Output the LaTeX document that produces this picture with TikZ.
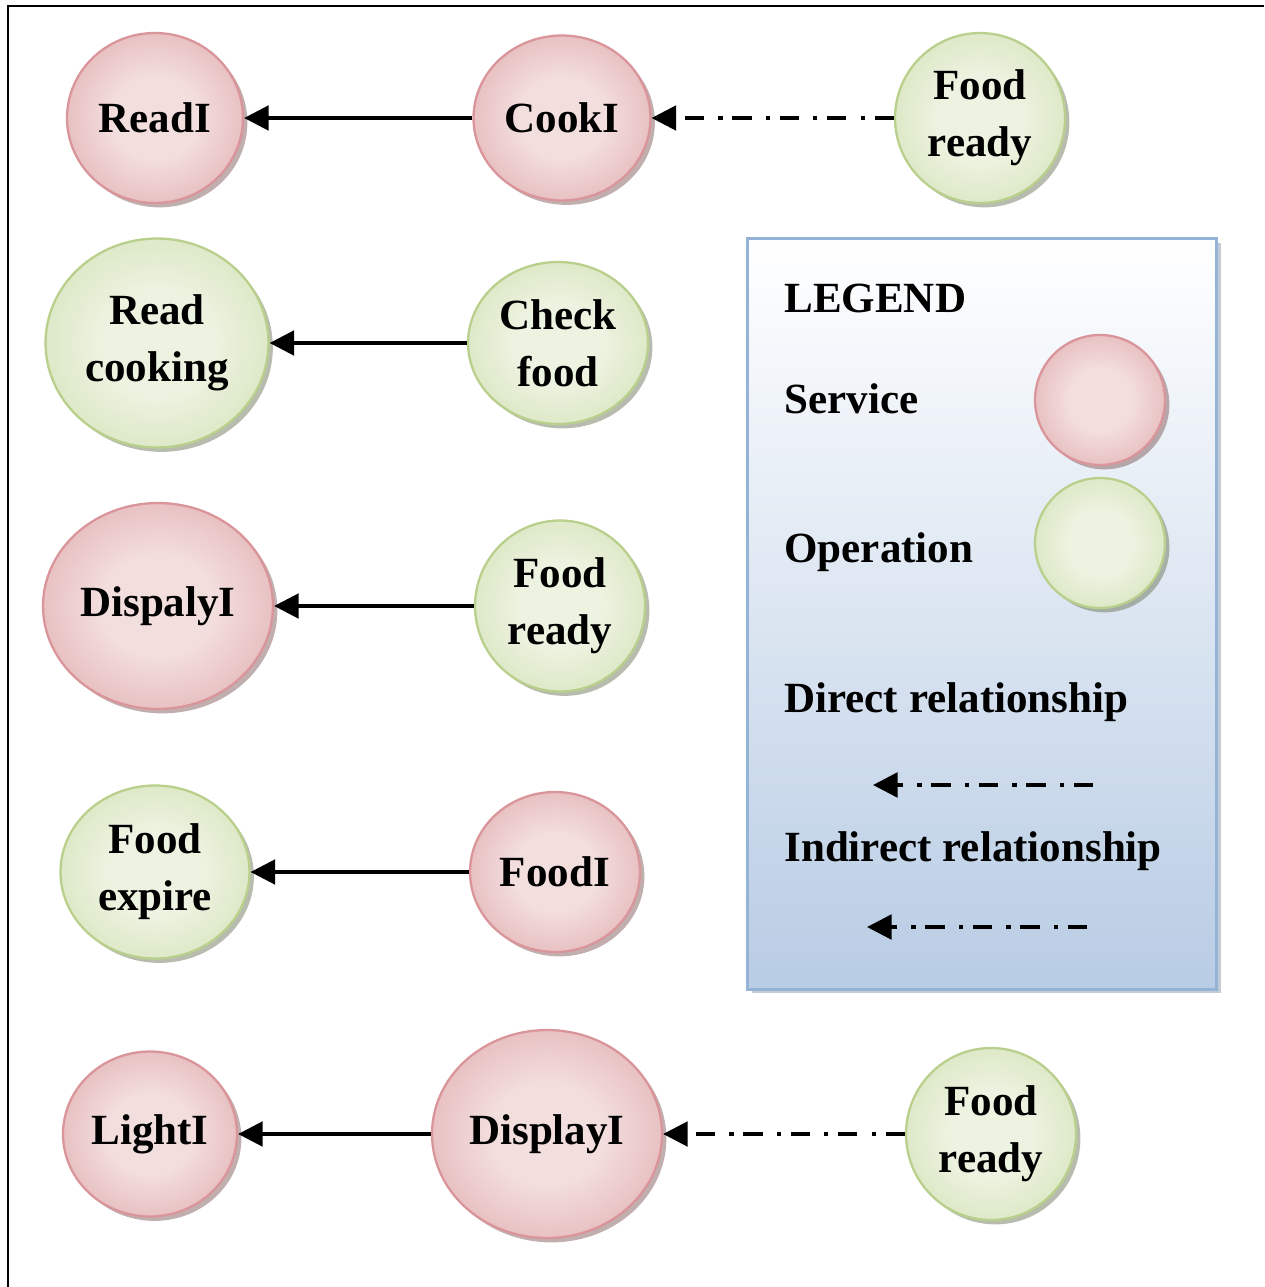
\documentclass[tikz,border=0pt]{standalone}
\usepackage{fontspec}
\setmainfont{Liberation Serif}
\usetikzlibrary{shapes.geometric,shadows,arrows.meta}
\definecolor{svcin}{HTML}{F3DEDE}
\definecolor{svcout}{HTML}{D48A8E}
\definecolor{svcline}{HTML}{D9959A}
\definecolor{opin}{HTML}{EDF3E1}
\definecolor{opout}{HTML}{C0D698}
\definecolor{opline}{HTML}{B8D08C}
\definecolor{legbot}{HTML}{B8CCE4}
\definecolor{legline}{HTML}{95B3D7}
\pgfdeclareradialshading{svcshade}{\pgfpoint{0bp}{0bp}}{color(0bp)=(svcin); color(12bp)=(svcin); color(50bp)=(svcout)}
\pgfdeclareradialshading{opshade}{\pgfpoint{0bp}{0bp}}{color(0bp)=(opin); color(12bp)=(opin); color(50bp)=(opout)}
\tikzstyle{lbl}=[font=\bfseries\fontsize{24.5}{32.4}\selectfont]
\tikzstyle{service}=[ellipse,lbl,align=center,inner sep=0pt,draw=svcline,line width=1.3pt,shading=svcshade,drop shadow={shadow xshift=2.5pt,shadow yshift=-2.5pt,fill=svcout!55!black,opacity=0.45}]
\tikzstyle{operation}=[ellipse,lbl,align=center,inner sep=0pt,draw=opline,line width=1.3pt,shading=opshade,drop shadow={shadow xshift=2.5pt,shadow yshift=-2.5pt,fill=opout!50!black,opacity=0.45}]
\tikzstyle{direct}=[line width=2pt,-{Triangle[length=14pt,width=14pt]}]
\tikzstyle{indirect}=[direct,dash pattern=on 11pt off 5.5pt on 2.5pt off 8pt]

\begin{document}
\begin{tikzpicture}[x=0.02cm,y=-0.02cm]
\useasboundingbox (0,0) rectangle (1264,1287);
\draw[line width=1.6pt] (8,1287) -- (8,6) -- (1264,6);

% legend
\node[rectangle,minimum width=9.38cm,minimum height=15.02cm,top color=white,bottom color=legbot,draw=legline,line width=1.8pt,drop shadow={shadow xshift=2.3pt,shadow yshift=-2.3pt,fill=legline!70!black,opacity=0.4}] (legend) at (982,614) {};
\node[lbl,inner sep=0pt,anchor=base west] (legTitle) at (784,313) {LEGEND};
\node[lbl,inner sep=0pt,anchor=base west] (legSvcTxt) at (784,413) {Service};
\node[lbl,inner sep=0pt,anchor=base west] (legOpTxt) at (784,562) {Operation};
\node[lbl,inner sep=0pt,anchor=base west] (legDirTxt) at (784,712) {Direct relationship};
\node[lbl,inner sep=0pt,anchor=base west] (legIndTxt) at (784,861) {Indirect relationship};
\node[service,minimum width=2.6cm,minimum height=2.6cm] (legSvc) at (1100,400) {};
\node[operation,minimum width=2.6cm,minimum height=2.6cm] (legOp) at (1100,543) {};
\coordinate (dirS) at (1093,785);
\coordinate (dirT) at (873,785);
\coordinate (indS) at (1087,927);
\coordinate (indT) at (867,927);
\draw[indirect] (dirS) -- (dirT);
\draw[indirect] (indS) -- (indT);

% row 1
\node[service,minimum width=3.52cm,minimum height=3.4cm] (readI) at (155,118) {ReadI};
\node[service,minimum width=3.54cm,minimum height=3.3cm] (cookI) at (562,118) {CookI};
\node[operation,minimum width=3.4cm,minimum height=3.4cm] (rdyA) at (980,118) {Food\\ready};
\draw[direct] (cookI) -- (readI);
\draw[indirect] (rdyA) -- (cookI);

% row 2
\node[operation,minimum width=4.46cm,minimum height=4.18cm] (readCook) at (157,343) {Read\\cooking};
\node[operation,minimum width=3.6cm,minimum height=3.24cm] (check) at (558,343) {Check\\food};
\draw[direct] (check) -- (readCook);

% row 3
\node[service,minimum width=4.6cm,minimum height=4.12cm] (dispA) at (158,606) {DispalyI};
\node[operation,minimum width=3.4cm,minimum height=3.42cm] (rdyB) at (560,606) {Food\\ready};
\draw[direct] (rdyB) -- (dispA);

% row 4
\node[operation,minimum width=3.78cm,minimum height=3.46cm] (expire) at (155,872) {Food\\expire};
\node[service,minimum width=3.4cm,minimum height=3.2cm] (foodI) at (555,872) {FoodI};
\draw[direct] (foodI) -- (expire);

% row 5
\node[service,minimum width=3.48cm,minimum height=3.3cm] (lightI) at (150,1134) {LightI};
\node[service,minimum width=4.6cm,minimum height=4.16cm] (dispB) at (547,1134) {DisplayI};
\node[operation,minimum width=3.4cm,minimum height=3.44cm] (rdyC) at (991,1134) {Food\\ready};
\draw[direct] (dispB) -- (lightI);
\draw[indirect] (rdyC) -- (dispB);
\end{tikzpicture}
\end{document}
